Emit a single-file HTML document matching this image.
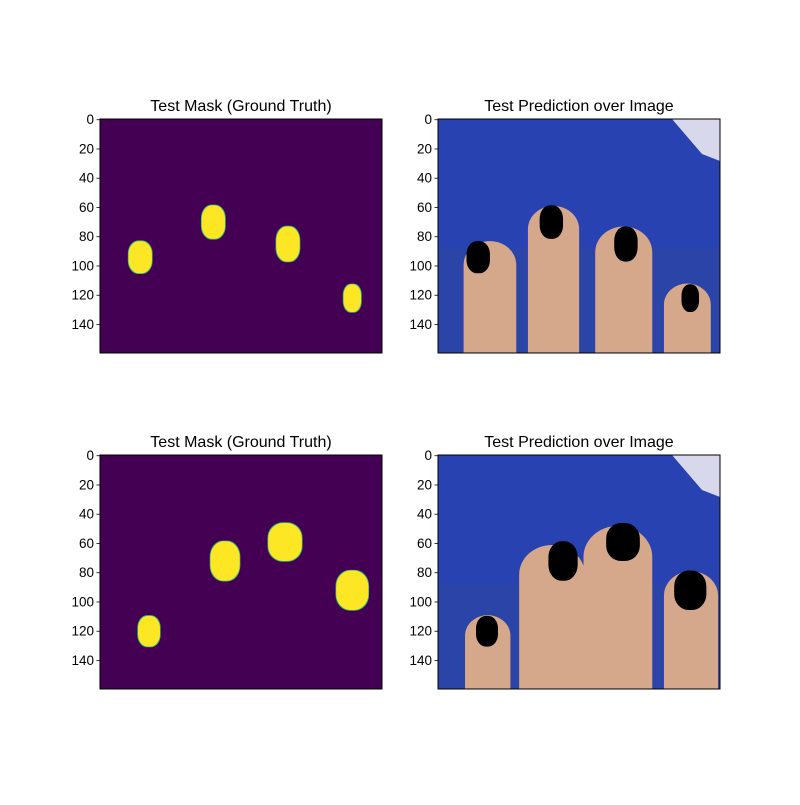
<!DOCTYPE html>
<html><head><meta charset="utf-8"><style>
body{margin:0;background:#fff}
svg text{font-family:"Liberation Sans","DejaVu Sans",sans-serif}
</style></head><body>
<svg id="fig" width="800" height="800" viewBox="0 0 800 800" xmlns="http://www.w3.org/2000/svg">
<rect width="800" height="800" fill="#fff"/>
</svg>
<script>
// Nail data in image coordinates (column, row, width cols, height rows)
const topNailCols=[27,77,128,172];
const topNailRows=[94,70,85,122];
const topNailW=[16,16,16,12];
const topNailH=[22,23,24,19];
const botNailCols=[33,85,126,172];
const botNailRows=[120,72,59,92];
const botNailW=[15,20,23,22];
const botNailH=[21,27,26,27];
// Finger tops (row) and column spans for the photos
const topFingerL=[17,61,107,154];
const topFingerR=[53,96,146,186];
const topFingerTop=[83,59,73,112];
const botFingerL=[18,55,99,154];
const botFingerR=[49,100,146,191];
const botFingerTop=[109,61,48,79];
const yTicks=[0,20,40,60,80,100,120,140];

const NS="http://www.w3.org/2000/svg";
const svg=document.getElementById('fig');
const S=1.4625, AW=282, AH=234;
function el(tag,attrs,parent){const e=document.createElementNS(NS,tag);for(const k in attrs)e.setAttribute(k,attrs[k]);(parent||svg).appendChild(e);return e;}

function axes(x0,y0,title,name,photo,cols,rows,ws,hs,fl,fr,ft){
  const g=el('g',{});
  
  
  const cid='clip'+name;
  const cp=el('clipPath',{id:cid},g);el('rect',{x:x0,y:y0,width:AW,height:AH},cp);
  const inner=el('g',{'clip-path':'url(#'+cid+')'},g);
  const X=c=>x0+(c+0.5)*S, Y=r=>y0+(r+0.5)*S;
  if(!photo){
    el('rect',{x:x0,y:y0,width:AW,height:AH,fill:'#440154'},inner);
  }else{
    el('rect',{x:x0,y:y0,width:AW,height:AH,fill:'#2b44a8'},inner);
    el('rect',{x:x0,y:y0,width:AW,height:AH*0.55,fill:'#2a42b5',opacity:0.7},inner);
    el('polygon',{points:`${x0+AW-48},${y0} ${x0+AW},${y0} ${x0+AW},${y0+42} ${x0+AW-18},${y0+35}`,fill:'#d8d8ec'},inner);
    for(let i=0;i<fl.length;i++){
      const l=X(fl[i]),r=X(fr[i]),t=Y(ft[i]);
      const f=el('rect',{x:l,y:t,width:r-l,height:y0+AH-t+40,rx:(r-l)/2,ry:(r-l)*0.45,fill:'#d6a88b'},inner);
      
      
    }
  }
  for(let i=0;i<cols.length;i++){
    const w=ws[i]*S,h=hs[i]*S,cx=X(cols[i]),cy=Y(rows[i]);
    if(!photo) el('rect',{x:cx-w/2-0.7,y:cy-h/2-0.7,width:w+1.4,height:h+1.4,rx:w*0.45,ry:h*0.4,fill:'#35b779'},inner);
    const n=el('rect',{x:cx-w/2,y:cy-h/2,width:w,height:h,rx:w*0.45,ry:h*0.4,fill:photo?'#000':'#fde725'},inner);
    
    
  }
  el('rect',{x:x0,y:y0,width:AW,height:AH,fill:'none',stroke:'#000','stroke-width':1},g);
  yTicks.forEach(v=>{
    const y=Y(v);
    el('line',{x1:x0-3.5,x2:x0,y1:y,y2:y,stroke:'#000','stroke-width':0.8},g);
    const t=el('text',{x:x0-6,y:y+4.5,'text-anchor':'end','font-size':13.5,fill:'#000'},g);
    t.textContent=v;
    
    
  });
  const tt=el('text',{x:x0+AW/2,y:y0-8,'text-anchor':'middle','font-size':16,fill:'#000'},g);
  tt.textContent=title;
  
  
}
axes(100,119,'Test Mask (Ground Truth)','mask-top',false,topNailCols,topNailRows,topNailW,topNailH);
axes(438,119,'Test Prediction over Image','prediction-top',true,topNailCols,topNailRows,topNailW,topNailH,topFingerL,topFingerR,topFingerTop);
axes(100,455,'Test Mask (Ground Truth)','mask-bottom',false,botNailCols,botNailRows,botNailW,botNailH);
axes(438,455,'Test Prediction over Image','prediction-bottom',true,botNailCols,botNailRows,botNailW,botNailH,botFingerL,botFingerR,botFingerTop);
</script>
</body></html>
